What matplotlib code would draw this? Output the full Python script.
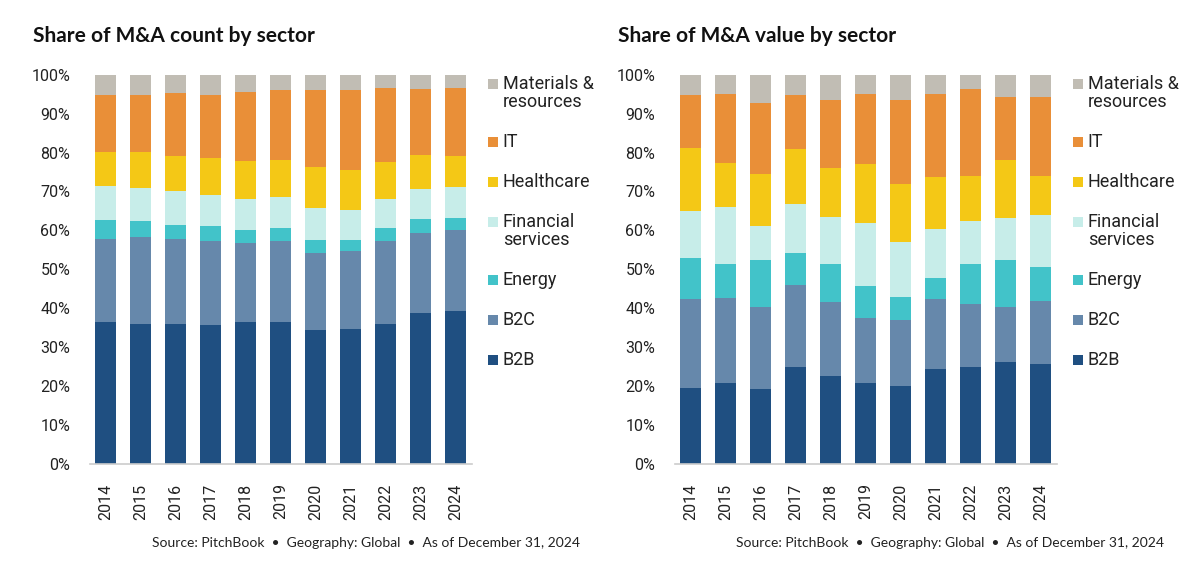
import matplotlib
matplotlib.use("Agg")
import matplotlib.pyplot as plt
from matplotlib import font_manager
from matplotlib.font_manager import FontProperties
from matplotlib.patches import Rectangle
import numpy as np

years = ["2014", "2015", "2016", "2017", "2018", "2019", "2020", "2021", "2022", "2023", "2024"]
sectors = ["B2B", "B2C", "Energy", "Financial\nservices", "Healthcare", "IT", "Materials &\nresources"]
colors = ["#1f4f81", "#6688ab", "#42c3c9", "#c7ede9", "#f4c816", "#e98f38", "#c1bdb4"]

# share of deal count, % per sector (bottom to top)
count_b2b = [36.4, 36.0, 36.0, 35.7, 36.4, 36.4, 34.4, 34.6, 36.0, 38.7, 39.2]
count_b2c = [21.3, 22.4, 21.7, 21.6, 20.4, 20.9, 19.8, 20.1, 21.3, 20.7, 20.9]
count_energy = [4.9, 4.0, 3.8, 3.8, 3.3, 3.3, 3.4, 2.9, 3.2, 3.5, 3.1]
count_fin = [8.7, 8.4, 8.5, 8.0, 7.9, 7.9, 8.2, 7.6, 7.5, 7.8, 7.9]
count_health = [8.8, 9.3, 9.0, 9.5, 9.8, 9.7, 10.6, 10.3, 9.5, 8.8, 8.1]
count_it = [14.6, 14.6, 16.2, 16.1, 17.7, 17.8, 19.6, 20.5, 19.0, 16.8, 17.3]
count_mat = [5.3, 5.3, 4.8, 5.3, 4.5, 4.0, 4.0, 4.0, 3.5, 3.7, 3.5]

# share of deal value, % per sector (bottom to top)
value_b2b = [19.5, 20.7, 19.2, 24.9, 22.5, 20.7, 20.1, 24.3, 24.9, 26.3, 25.6]
value_b2c = [22.8, 21.9, 21.2, 21.0, 19.1, 16.7, 16.9, 18.0, 16.1, 14.1, 16.2]
value_energy = [10.5, 8.8, 11.9, 8.2, 9.7, 8.3, 5.8, 5.6, 10.3, 11.9, 8.9]
value_fin = [12.1, 14.6, 8.9, 12.6, 12.2, 16.2, 14.2, 12.5, 11.1, 11.0, 13.2]
value_health = [16.2, 11.3, 13.2, 14.2, 12.5, 15.1, 14.9, 13.3, 11.5, 14.7, 10.0]
value_it = [13.6, 17.7, 18.4, 13.8, 17.5, 18.0, 21.5, 21.3, 22.4, 16.2, 20.5]
value_mat = [5.3, 5.0, 7.2, 5.3, 6.5, 5.0, 6.6, 5.0, 3.7, 5.8, 5.6]

count_series = [count_b2b, count_b2c, count_energy, count_fin, count_health, count_it, count_mat]
value_series = [value_b2b, value_b2c, value_energy, value_fin, value_health, value_it, value_mat]
yticks = [0, 10, 20, 30, 40, 50, 60, 70, 80, 90, 100]
source = "Source: PitchBook  \u2022  Geography: Global  \u2022  As of December 31, 2024"


def pick_narrow():
    # the reference uses a condensed sans for the legend; take a regular-weight narrow face
    found = []
    for f in font_manager.fontManager.ttflist:
        if f.name not in ("Noto Sans", "Open Sans", "Roboto", "Liberation Sans Narrow"):
            continue
        if f.style != "normal" or f.weight not in (400, "normal", "regular", "book"):
            continue
        base = f.fname.replace("\\", "/").split("/")[-1].lower()
        if f.name == "Liberation Sans Narrow":
            rank = 0
        elif "semicondensed" in base:
            rank = 1
        elif "condensed" in base and "extra" not in base:
            rank = 2
        else:
            continue
        found.append((rank, f.fname))
    found.sort()
    return found[0][1] if found else None


narrow_file = pick_narrow()


def narrow(size):
    if narrow_file:
        return FontProperties(fname=narrow_file, size=size)
    return FontProperties(family="Roboto", size=size)


def ticks(size):
    return FontProperties(family="Roboto", size=size)


fig = plt.figure(figsize=(12, 5.88), dpi=100)

W, H = 1200.0, 588.0
panels = [
    ("Share of M&A count by sector", count_series, 89.75, 33, 580),
    ("Share of M&A value by sector", value_series, 674.75, 618, 1164),
]

for title, series, left_px, title_x, src_right in panels:
    ax = fig.add_axes([left_px / W, (H - 464) / H, 382 / W, (464 - 74.7) / H])
    x = np.arange(len(years))
    bottom = np.zeros(len(years))
    for vals, col in zip(series, colors):
        ax.bar(x, vals, width=0.6, bottom=bottom, color=col, linewidth=0)
        bottom += np.array(vals)
    ax.set_xlim(-0.45, 10.45)
    ax.set_ylim(0, 100)
    ax.set_yticks(yticks)
    ax.set_yticklabels([f"{t}%" for t in yticks], fontproperties=ticks(11.5), color="#222222")
    ax.set_xticks(x)
    ax.set_xticklabels(years, rotation=90, fontproperties=ticks(11.5), color="#222222")
    for s in ["top", "right", "left"]:
        ax.spines[s].set_visible(False)
    ax.spines["bottom"].set_color("#cccccc")
    ax.spines["bottom"].set_linewidth(1.2)
    ax.tick_params(axis="y", length=0, pad=14)
    ax.tick_params(axis="x", length=0, pad=14)

    fig.text(title_x / W, (H - 36) / H, title, fontsize=15, fontweight="bold",
             family=["Lato", "DejaVu Sans"], color="#111111", va="center", ha="left")
    fig.text(src_right / W, (H - 543) / H, source, fontsize=10,
             family=["Lato", "DejaVu Sans"], color="#222222", va="center", ha="right")

    # legend, top entry first, square next to the first line of each label
    y = 84.0
    for name, col in zip(sectors[::-1], colors[::-1]):
        fig.add_artist(Rectangle(((left_px + 398) / W, (H - y - 5) / H), 10 / W, 10 / H,
                                 transform=fig.transFigure, facecolor=col, edgecolor="none"))
        lines = name.split("\n")
        for i, line in enumerate(lines):
            fig.text((left_px + 413) / W, (H - y - 18 * i) / H, line, fontproperties=narrow(13),
                     color="#222222", va="center", ha="left")
        y += 40 + 18 * (len(lines) - 1)

fig.savefig("out.png", dpi=100)
